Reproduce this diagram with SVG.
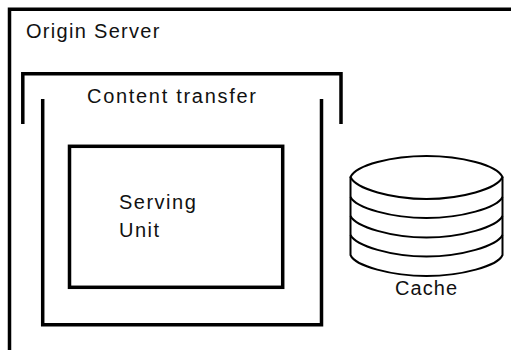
<svg xmlns="http://www.w3.org/2000/svg" width="511" height="350" viewBox="0 0 511 350">
<style>
.b{fill:none;stroke:#000;stroke-width:3.5;stroke-linecap:butt;stroke-linejoin:miter}
.c{fill:none;stroke:#000;stroke-width:2}
text{font-family:"Liberation Sans",Arial,sans-serif;font-size:20px;fill:#111}
</style>
<rect width="511" height="350" fill="#fff"/>
<g id="origin-server"><path class="b" d="M9.500 350V9.200H511"/><text x="26" y="38" letter-spacing="1.3">Origin Server</text></g>
<g id="content-transfer"><path class="b" d="M22.800 124V73.700H341V124"/><path class="b" d="M42.700 99V324.700H321.500V99"/><text x="87" y="103" letter-spacing="1.7">Content transfer</text></g>
<g id="serving-unit"><rect class="b" x="69.500" y="146.300" width="213.200" height="141"/><text x="119" y="209" letter-spacing="1.500">Serving</text><text x="119" y="237" letter-spacing="1.500">Unit</text></g>
<g id="cache">
<path class="c" d="M350.500 177C356 165 392 156 426.500 156C461 156 497 165 502.500 177C497 189 461 199 426.500 199C392 199 356 189 350.500 177Z"/>
<path class="c" d="M350.500 177V255C355 266 392 276 426.500 276C461 276 498 266 502.500 255V177"/>
<path class="c" d="M350.500 197C356 208 392 218 426.500 218C461 218 497 208 502.500 197"/>
<path class="c" d="M350.500 216C356 227 392 237.500 426.500 237.500C461 237.500 497 227 502.500 216"/>
<path class="c" d="M350.500 235C356 246 392 256.500 426.500 256.500C461 256.500 497 246 502.500 235"/>
<text x="395" y="294.500" letter-spacing="1.100">Cache</text></g>
<g id="connectors"></g>
</svg>
